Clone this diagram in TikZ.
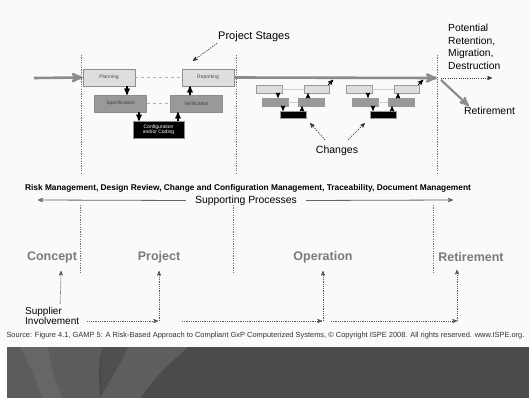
\documentclass[tikz,border=0pt]{standalone}
\usepackage{fontspec}
\setmainfont{Liberation Sans}
\usetikzlibrary{arrows}
\tikzset{>=stealth'}
\definecolor{paper}{HTML}{FAFAFA}
\definecolor{band}{HTML}{4B4B4B}
\definecolor{phasegray}{HTML}{7A7A7A}
\tikzset{
  stagebox/.style={draw=black!45, inner sep=0pt, minimum width=52pt, minimum height=17pt, font=\fontsize{5}{6}\selectfont},
  lightbox/.style={stagebox, fill=black!13, text=black!70},
  midbox/.style={stagebox, fill=black!40, text=black!75},
  darkbox/.style={stagebox, fill=black, text=white, align=center},
  chbox/.style={draw=black!40, inner sep=0pt, minimum width=26pt, minimum height=8pt},
  phase/.style={inner sep=0pt, text=phasegray, font=\bfseries\fontsize{12.5}{14}\selectfont},
  mainline/.style={line width=2.6pt, black!45},
  stepline/.style={line width=1.3pt, black},
  bound/.style={black!55, line width=0.7pt, dash pattern=on 1.2pt off 1.2pt},
  supply/.style={->, black!65, line width=0.7pt, dash pattern=on 0.9pt off 0.9pt},
}
\begin{document}
\begin{tikzpicture}[x=1pt,y=-1pt]
\useasboundingbox (0,0) rectangle (529,398);
\fill[paper] (0,0) rectangle (529,347);
    % bottom band
    \fill[band] (7,347) rectangle (529,398);
    \fill[black!64] (7,347) -- (102,347) .. controls (98,370) .. (100,398) -- (7,398) -- cycle;
    \fill[black!60] (20,347) -- (48,347) .. controls (52,370) .. (62,398) -- (42,398) .. controls (34,375) .. (20,347) -- cycle;
    \fill[black!69] (102,347) -- (128,347) .. controls (118,365) .. (103,392) .. controls (102,375) .. (102,347) -- cycle;
    \fill[black!63] (128,347) -- (188,347) .. controls (160,372) .. (140,398) -- (100,398) .. controls (110,380) and (120,365) .. (128,347) -- cycle;
    % stage boundaries
    \draw[bound] (81,55) -- (81,173);
    \draw[bound] (236,55) -- (236,173);
    \draw[bound] (437,55) -- (437,173);
    \draw[bound] (80,205) -- (80,273);
    \draw[bound] (233,205) -- (233,273);
    \draw[bound] (433,205) -- (433,273);
    % project stages
    \node[lightbox] (plan) at (109,77.5) {Planning};
    \node[lightbox] (rep) at (208,77.5) {Reporting};
    \node[midbox] (spec) at (120.5,103.5) {Specification};
    \node[midbox] (ver) at (196.5,103.5) {Verification};
    \node[darkbox, minimum width=51pt] (cfg) at (158.5,129.5) {Configuration\\[-1pt]and/or Coding};
    \draw[black!30, line width=1pt, dashed] (plan.east) -- (rep.west);
    \draw[black!30, line width=1pt, dashed] (spec.east) -- (ver.west);
    \draw[->, stepline] ([xshift=18pt]plan.south) -- ([xshift=6.5pt]spec.north);
    \draw[->, stepline] ([xshift=18.5pt]spec.south) -- ([xshift=-19.5pt]cfg.north);
    \draw[->, stepline] ([xshift=19.5pt]cfg.north) -- ([xshift=-18.5pt]ver.south);
    \draw[->, stepline] ([xshift=-6.5pt]ver.north) -- ([xshift=-18pt]rep.south);
    \coordinate (start) at (34,78);
    \coordinate (fork) at (437,78);
    \draw[->, mainline] (start) -- (plan.west);
    \draw[->, mainline] (rep.east) -- (fork);
    \node[anchor=center, inner sep=1pt, font=\fontsize{11}{13}\selectfont] (stg) at (254,37) {Project Stages};
    \draw[->, black!80, line width=0.7pt, dash pattern=on 1.2pt off 1.2pt] (stg.south west) -- ([xshift=-15pt,yshift=8pt]rep.north);
    % changes during operation
    \foreach \dx/\g in {0/a,90/b}{
      \node[chbox, fill=black!13] (ll\g) at ({269+\dx},89) {};
      \node[chbox, fill=black!13, minimum width=25pt] (lr\g) at ({316.5+\dx},89) {};
      \node[chbox, fill=black!40] (ml\g) at ({275+\dx},102) {};
      \node[chbox, fill=black!40] (mr\g) at ({311+\dx},102) {};
      \node[chbox, fill=black, minimum height=7pt] (bk\g) at ({293+\dx},114.5) {};
      \draw[black!20, line width=0.6pt] (ll\g.east) -- (lr\g.west);
      \draw[black!20, line width=0.6pt] (ml\g.east) -- (mr\g.west);
      \draw[->, line width=0.9pt] ([xshift=9pt]ll\g.south) -- ([xshift=3pt]ml\g.north);
      \draw[->, line width=0.9pt] ([xshift=8pt]ml\g.south) -- ([xshift=-10pt]bk\g.north);
      \draw[->, line width=0.9pt] ([xshift=9pt]bk\g.north) -- ([xshift=-9pt]mr\g.south);
      \draw[->, line width=0.9pt] ([xshift=-3pt]mr\g.north) -- ([xshift=-8.5pt]lr\g.south);
      \draw[->, line width=0.9pt] ([xshift=-1pt]lr\g.north east) -- ([xshift=4pt,yshift=5pt]lr\g.north east);
    }
    \node[inner sep=1pt, font=\fontsize{10.5}{12}\selectfont] (chg) at (337,151) {Changes};
    \draw[->, black!80, line width=0.7pt, dash pattern=on 1.2pt off 1.2pt] ([xshift=-12pt,yshift=5pt]chg.north) -- ([xshift=4pt,yshift=-5pt]bka.south east);
    \draw[->, black!80, line width=0.7pt, dash pattern=on 1.2pt off 1.2pt] ([xshift=11pt,yshift=5pt]chg.north) -- ([xshift=-5pt,yshift=-5pt]bkb.south west);
    % retirement
    \node[anchor=north west, inner sep=0pt, align=left, font=\fontsize{10.3}{12.5}\selectfont] (pot) at (448,24) {Potential\\Retention,\\Migration,\\Destruction};
    \node[inner sep=1pt, font=\fontsize{10.4}{12}\selectfont] (retx) at (489.5,111) {Retirement};
    \coordinate (keep) at (492,78);
    \draw[->, black!75, line width=0.7pt, dash pattern=on 1pt off 1.2pt] ([xshift=4pt]fork) -- (keep);
    \draw[->, mainline, line width=2.2pt] ([xshift=4pt,yshift=-2pt]fork) -- ([xshift=6pt]retx.north west);
    % supporting processes
    \node[font=\bfseries\fontsize{8.35}{10}\selectfont] (risk) at (248,188) {Risk Management, Design Review, Change and Configuration Management, Traceability, Document Management};
    \node[inner xsep=9pt, inner ysep=0pt, font=\fontsize{10.4}{12}\selectfont] (sp) at (246,200.5) {Supporting Processes};
    \coordinate (spl) at (38,200);
    \coordinate (spr) at (453,200);
    \draw[->, black!60, line width=0.8pt] (sp.west) -- (spl);
    \draw[->, black!60, line width=0.8pt] (sp.east) -- (spr);
    % life cycle phases
    \node[phase] (con) at (52,257) {Concept};
    \node[phase] (prj) at (159,257) {Project};
    \node[phase] (opn) at (323,257) {Operation};
    \node[phase] (rtr) at (471,257) {Retirement};
    % supplier
    \node[anchor=west, inner sep=0pt, align=left, font=\fontsize{10}{10.5}\selectfont] (sup) at (25,316) {Supplier\\Involvement};
    \coordinate (p0) at (159,321);
    \coordinate (o0) at (323,321);
    \coordinate (r0) at (457,321);
    \draw[supply] ([xshift=8pt,yshift=3pt]sup.north) -- ([xshift=9pt,yshift=-8pt]con.south);
    \draw[supply] ([xshift=8pt]sup.east |- p0) -- ([xshift=-1pt]p0);
    \draw[supply] (p0) -- ([yshift=-8pt]prj.south);
    \draw[supply] ([xshift=23pt]p0) -- ([xshift=-1pt]o0);
    \draw[supply] (o0) -- ([yshift=-8pt]opn.south);
    \draw[supply] ([xshift=8pt]o0) -- (r0);
    \draw[supply] (r0) -- ([xshift=-14pt,yshift=-8pt]rtr.south);
    \node[inner sep=0pt, font=\fontsize{7.45}{8.5}\selectfont, text=black!80] (src) at (265.5,336) {Source: Figure 4.1, GAMP 5: A Risk-Based Approach to Compliant GxP Computerized Systems, © Copyright ISPE 2008. All rights reserved. www.ISPE.org.};
\end{tikzpicture}
\end{document}
